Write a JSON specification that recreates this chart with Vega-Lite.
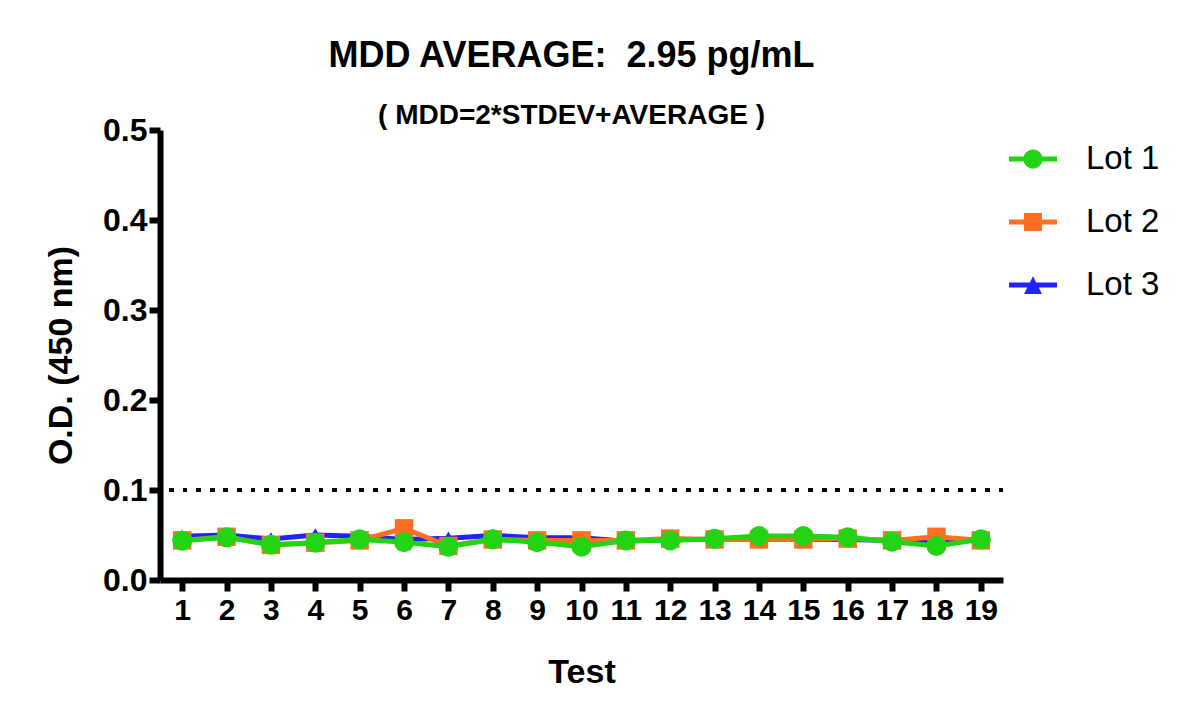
{
  "$schema": "https://vega.github.io/schema/vega-lite/v6.json",
  "width": 843,
  "height": 450,
  "autosize": "none",
  "padding": {"left": 160, "top": 130, "right": 197, "bottom": 147},
  "background": "white",
  "title": {
    "text": "MDD AVERAGE: \u00a02.95 pg/mL",
    "subtitle": "( MDD=2*STDEV+AVERAGE )",
    "font": "Liberation Sans",
    "fontSize": 36,
    "fontWeight": "bold",
    "color": "black",
    "subtitleFont": "Liberation Sans",
    "subtitleFontSize": 28,
    "subtitleFontWeight": "bold",
    "subtitleColor": "black",
    "subtitlePadding": 27,
    "anchor": "middle",
    "dx": -10,
    "offset": -17
  },
  "config": {
    "view": {"stroke": null},
    "axis": {
      "grid": false,
      "domainColor": "black",
      "domainWidth": 6,
      "tickColor": "black",
      "tickWidth": 6,
      "tickSize": 11,
      "labelFont": "Liberation Sans",
      "labelFontWeight": "bold",
      "labelColor": "black",
      "titleFont": "Liberation Sans",
      "titleFontWeight": "bold",
      "titleColor": "black",
      "titleFontSize": 34
    }
  },
  "data": {
    "values": [
      {"test": 1, "lot": "Lot 1", "od": 0.0437},
      {"test": 2, "lot": "Lot 1", "od": 0.0474},
      {"test": 3, "lot": "Lot 1", "od": 0.0393},
      {"test": 4, "lot": "Lot 1", "od": 0.0415},
      {"test": 5, "lot": "Lot 1", "od": 0.0452},
      {"test": 6, "lot": "Lot 1", "od": 0.0419},
      {"test": 7, "lot": "Lot 1", "od": 0.0370},
      {"test": 8, "lot": "Lot 1", "od": 0.0452},
      {"test": 9, "lot": "Lot 1", "od": 0.0419},
      {"test": 10, "lot": "Lot 1", "od": 0.0370},
      {"test": 11, "lot": "Lot 1", "od": 0.0440},
      {"test": 12, "lot": "Lot 1", "od": 0.0440},
      {"test": 13, "lot": "Lot 1", "od": 0.0459},
      {"test": 14, "lot": "Lot 1", "od": 0.0489},
      {"test": 15, "lot": "Lot 1", "od": 0.0489},
      {"test": 16, "lot": "Lot 1", "od": 0.0474},
      {"test": 17, "lot": "Lot 1", "od": 0.0426},
      {"test": 18, "lot": "Lot 1", "od": 0.0378},
      {"test": 19, "lot": "Lot 1", "od": 0.0452},
      {"test": 1, "lot": "Lot 2", "od": 0.0440},
      {"test": 2, "lot": "Lot 2", "od": 0.0480},
      {"test": 3, "lot": "Lot 2", "od": 0.0390},
      {"test": 4, "lot": "Lot 2", "od": 0.0415},
      {"test": 5, "lot": "Lot 2", "od": 0.0440},
      {"test": 6, "lot": "Lot 2", "od": 0.0574},
      {"test": 7, "lot": "Lot 2", "od": 0.0378},
      {"test": 8, "lot": "Lot 2", "od": 0.0450},
      {"test": 9, "lot": "Lot 2", "od": 0.0440},
      {"test": 10, "lot": "Lot 2", "od": 0.0440},
      {"test": 11, "lot": "Lot 2", "od": 0.0440},
      {"test": 12, "lot": "Lot 2", "od": 0.0460},
      {"test": 13, "lot": "Lot 2", "od": 0.0450},
      {"test": 14, "lot": "Lot 2", "od": 0.0450},
      {"test": 15, "lot": "Lot 2", "od": 0.0450},
      {"test": 16, "lot": "Lot 2", "od": 0.0460},
      {"test": 17, "lot": "Lot 2", "od": 0.0440},
      {"test": 18, "lot": "Lot 2", "od": 0.0480},
      {"test": 19, "lot": "Lot 2", "od": 0.0440},
      {"test": 1, "lot": "Lot 3", "od": 0.0485},
      {"test": 2, "lot": "Lot 3", "od": 0.0500},
      {"test": 3, "lot": "Lot 3", "od": 0.0455},
      {"test": 4, "lot": "Lot 3", "od": 0.0500},
      {"test": 5, "lot": "Lot 3", "od": 0.0485},
      {"test": 6, "lot": "Lot 3", "od": 0.0450},
      {"test": 7, "lot": "Lot 3", "od": 0.0465},
      {"test": 8, "lot": "Lot 3", "od": 0.0495},
      {"test": 9, "lot": "Lot 3", "od": 0.0470},
      {"test": 10, "lot": "Lot 3", "od": 0.0470},
      {"test": 11, "lot": "Lot 3", "od": 0.0430},
      {"test": 12, "lot": "Lot 3", "od": 0.0450},
      {"test": 13, "lot": "Lot 3", "od": 0.0450},
      {"test": 14, "lot": "Lot 3", "od": 0.0450},
      {"test": 15, "lot": "Lot 3", "od": 0.0450},
      {"test": 16, "lot": "Lot 3", "od": 0.0450},
      {"test": 17, "lot": "Lot 3", "od": 0.0440},
      {"test": 18, "lot": "Lot 3", "od": 0.0430},
      {"test": 19, "lot": "Lot 3", "od": 0.0450}
    ]
  },
  "encoding": {
    "x": {
      "field": "test",
      "type": "ordinal",
      "title": "Test",
      "scale": {"type": "point", "padding": 0.5},
      "axis": {"labelAngle": 0, "labelFontSize": 30, "labelPadding": 4, "titlePadding": 30}
    },
    "y": {
      "field": "od",
      "type": "quantitative",
      "title": "O.D. (450 nm)",
      "scale": {"domain": [0, 0.5], "nice": false},
      "axis": {"values": [0, 0.1, 0.2, 0.3, 0.4, 0.5], "format": ".1f", "labelFontSize": 32, "labelPadding": 2, "titlePadding": 24}
    },
    "color": {
      "field": "lot",
      "type": "nominal",
      "scale": {"domain": ["Lot 1", "Lot 2", "Lot 3"], "range": ["#22d414", "#ff6f22", "#2222ff"]},
      "legend": {
        "title": null,
        "orient": "none",
        "legendX": 849,
        "legendY": 5,
        "padding": 0,
        "symbolSize": 2304,
        "symbolStrokeWidth": 0,
        "labelFont": "Liberation Sans",
        "labelFontSize": 33,
        "labelColor": "black",
        "labelOffset": 29,
        "rowPadding": 22,
        "encode": {
          "symbols": {
            "update": {
              "fill": {"scale": "color", "field": "value"},
              "stroke": {"value": "transparent"},
              "opacity": {"value": 1},
              "shape": {"signal": "datum.value === 'Lot 1' ? 'M-1,-0.104H1V0.104H-1Z M0.4,0A0.4,0.4,0,1,1,-0.4,0A0.4,0.4,0,1,1,0.4,0Z' : datum.value === 'Lot 2' ? 'M-1,-0.104H1V0.104H-1Z M-0.375,-0.375H0.375V0.375H-0.375Z' : 'M-1,-0.104H1V0.104H-1Z M0,-0.36L0.375,0.38H-0.375Z'"}
            }
          }
        }
      }
    }
  },
  "layer": [
    {
      "mark": {"type": "rule", "color": "black", "strokeWidth": 4, "strokeDash": [4, 9.6]},
      "encoding": {"y": {"datum": 0.1}, "x": null, "color": null}
    },
    {
      "transform": [{"filter": "datum.lot === 'Lot 3'"}],
      "mark": {"type": "line", "strokeWidth": 5, "point": {"shape": "triangle-up", "size": 240, "filled": true, "opacity": 1}}
    },
    {
      "transform": [{"filter": "datum.lot === 'Lot 2'"}],
      "mark": {"type": "line", "strokeWidth": 5, "point": {"shape": "square", "size": 340, "filled": true, "opacity": 1}}
    },
    {
      "transform": [{"filter": "datum.lot === 'Lot 1'"}],
      "mark": {"type": "line", "strokeWidth": 5, "point": {"shape": "circle", "size": 400, "filled": true, "opacity": 1}}
    }
  ]
}
